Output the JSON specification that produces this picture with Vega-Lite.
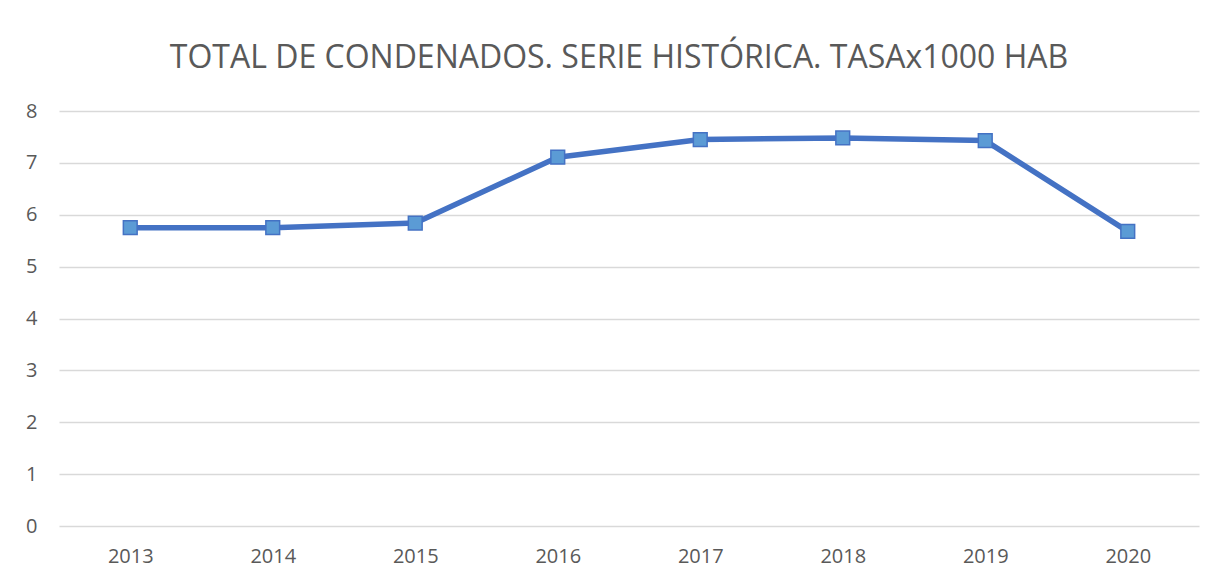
{
  "$schema": "https://vega.github.io/schema/vega-lite/v6.json",
  "width": 1140,
  "height": 415,
  "autosize": {"type": "none"},
  "padding": {"left": 59, "top": 111, "right": 28, "bottom": 53},
  "background": "white",
  "title": {
    "text": "TOTAL DE CONDENADOS. SERIE HISTÓRICA. TASAx1000 HAB",
    "font": "Open Sans",
    "fontSize": 32,
    "fontWeight": "normal",
    "color": "#595959",
    "anchor": "middle",
    "offset": 26,
    "dx": -10
  },
  "data": {
    "values": [
      {"year": "2013", "tasa": 5.75},
      {"year": "2014", "tasa": 5.75},
      {"year": "2015", "tasa": 5.84},
      {"year": "2016", "tasa": 7.11},
      {"year": "2017", "tasa": 7.45},
      {"year": "2018", "tasa": 7.48},
      {"year": "2019", "tasa": 7.43},
      {"year": "2020", "tasa": 5.68}
    ]
  },
  "config": {
    "view": {"stroke": null},
    "axis": {
      "labelFont": "Open Sans",
      "labelFontSize": 20,
      "labelColor": "#595959",
      "ticks": false,
      "domain": false,
      "title": null
    }
  },
  "encoding": {
    "x": {
      "field": "year",
      "type": "ordinal",
      "scale": {"type": "point", "padding": 0.5},
      "axis": {"labelAngle": 0, "labelPadding": 20, "grid": false}
    },
    "y": {
      "field": "tasa",
      "type": "quantitative",
      "scale": {"domain": [0, 8], "nice": false},
      "axis": {"values": [0,1,2,3,4,5,6,7,8], "labelPadding": 22, "grid": true, "gridColor": "#D9D9D9", "gridWidth": 1.5}
    }
  },
  "layer": [
    {"mark": {"type": "line", "color": "#4472C4", "strokeWidth": 5.5, "strokeCap": "round", "strokeJoin": "round"}},
    {"mark": {"type": "point", "shape": "square", "size": 190, "filled": true, "fill": "#5B9BD5", "stroke": "#4472C4", "strokeWidth": 1.5, "opacity": 1}}
  ]
}
